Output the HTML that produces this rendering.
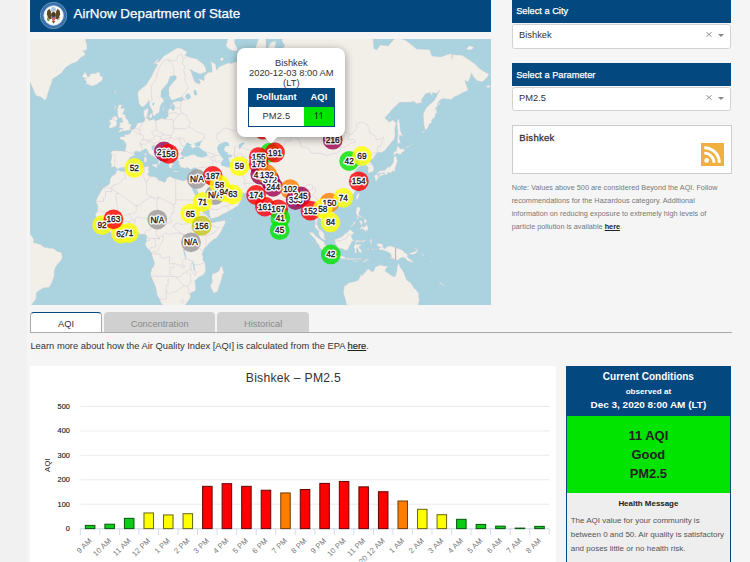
<!DOCTYPE html>
<html><head><meta charset="utf-8"><title>AirNow Department of State</title>
<style>
*{box-sizing:border-box}
html,body{margin:0;padding:0}
body{width:750px;height:562px;overflow:hidden;background:#f5f5f5;font-family:"Liberation Sans",sans-serif;color:#333;position:relative;font-variant-ligatures:none}
svg text{font-variant-ligatures:none}
.abs{position:absolute}
#hdr{left:30px;top:0;width:460.8px;height:31.5px;background:#03487f}
#hdr .t{position:absolute;left:43.5px;top:6.4px;font-size:13.4px;line-height:16px;color:#fff;white-space:nowrap;-webkit-text-stroke:0.25px #fff}
#map{left:30px;top:38.5px;width:460.9px;height:266.2px;background:#aad3df;overflow:hidden}
.mh{font:8.3px "Liberation Sans",sans-serif;text-anchor:middle;fill:#fff;stroke:#fff;stroke-width:3px;stroke-linejoin:round}
.ml{font:8.3px "Liberation Sans",sans-serif;text-anchor:middle;fill:#111;stroke:#111;stroke-width:0.28px}
.bar{left:511.7px;width:219.6px;background:#03487f;color:#fff;font-size:9.25px;-webkit-text-stroke:0.25px #fff;padding-left:4.5px;white-space:nowrap}
.sel{left:511.7px;width:219.6px;height:24px;background:#fff;border:1px solid #d2d2d2;border-radius:2.7px;font-size:9.3px;color:#333;padding-left:6.4px;line-height:21.8px}
.sel .x{position:absolute;left:193.5px;top:6.9px;width:6px;height:5px}
.sel .a{position:absolute;left:205.6px;top:8.6px;width:0;height:0;border-left:3.3px solid transparent;border-right:3.3px solid transparent;border-top:3.4px solid #888}
#city{left:511.7px;top:125px;width:220px;height:48.5px;background:#fff;border:1px solid #ccc}
#city .n{position:absolute;left:6.6px;top:6.2px;font-size:9.5px;color:#333;-webkit-text-stroke:0.3px #333;letter-spacing:0.3px}
#note{left:511.7px;top:180.7px;width:225px;font-size:7.25px;line-height:13.05px;color:#777;white-space:nowrap;letter-spacing:0.02px}
#note b{color:#222;text-decoration:underline}
.tab{top:312px;height:20.3px;background:#d0d0d0;border-radius:4px 4px 0 0;font-size:9.3px;color:#8a8a8a;text-align:center;line-height:24.3px}
#tabline{left:30px;top:331.8px;width:701.5px;height:0.9px;background:#a9a9a9}
#learn{left:30.4px;top:340.4px;font-size:9.36px;line-height:12px;color:#333;white-space:nowrap}
#learn b{font-weight:normal;text-decoration:underline;color:#222;-webkit-text-stroke:0.15px #222}
#chart{left:30px;top:366.3px;width:526px;height:196px;background:#fff}
.yl{font:7.3px "Liberation Sans",sans-serif;text-anchor:end;fill:#222;stroke:#222;stroke-width:0.15px;letter-spacing:0.1px}
.xl{font:7.6px "Liberation Sans",sans-serif;text-anchor:end;fill:#777;letter-spacing:0.15px}
.yt{font:7.6px "Liberation Sans",sans-serif;text-anchor:middle;fill:#222;letter-spacing:0.3px}
.ct{font:12.2px "Liberation Sans",sans-serif;text-anchor:middle;fill:#333;letter-spacing:0.25px}
#cc{left:565.8px;top:366.2px;width:165.2px;height:200px;background:#eee;border:1px solid #03487f;border-top:none}
#cc .h{position:absolute;left:-1px;top:0;width:165.2px;height:49.6px;background:#03487f;color:#fff;text-align:center;font-weight:bold}
#cc .g{position:absolute;left:0;top:49.6px;width:163.2px;height:77.2px;background:#00e400;color:#222;text-align:center;font-weight:bold;font-size:12.9px}
#cc .g div{position:absolute;left:0;width:100%;line-height:14px}
#cc .hm{position:absolute;left:0;top:133.2px;width:163.2px;text-align:center;font-weight:bold;font-size:7.95px;color:#222}
#cc .tx{position:absolute;left:3.9px;top:147.4px;font-size:8.0px;line-height:14.05px;color:#555;white-space:nowrap}
</style></head><body>

<div class="abs" style="left:0;top:0;width:26.7px;height:562px;background:#f1f1f1"></div>
<div id="hdr" class="abs">
<svg class="abs" style="left:10px;top:2px" width="27" height="27" viewBox="0 0 27 27">
<circle cx="13.5" cy="13.5" r="13.2" fill="#2f67a6" stroke="#8db6c2" stroke-width="0.7"/>
<circle cx="13.5" cy="13.5" r="11.4" fill="none" stroke="#4a80ba" stroke-width="0.7"/>
<circle cx="13.6" cy="13.5" r="9.8" fill="#fdfdfa" stroke="#c9dcec" stroke-width="0.8"/>
<circle cx="13.4" cy="7.6" r="2.5" fill="#a9c9e2"/>
<path d="M9.4 6.8 L7.2 9 L6.9 12.2 L7.8 15.2 L9.6 17.6 L11.6 16.4 L11.2 12.5 L10.8 9.2 Z" fill="#5e4a22"/>
<path d="M17.6 6.8 L19.8 9 L20.1 12.2 L19.2 15.2 L17.4 17.6 L15.4 16.4 L15.8 12.5 L16.2 9.2 Z" fill="#5e4a22"/>
<path d="M11.4 11 L13.5 9.8 L15.6 11 L15.8 14 L11.2 14 Z" fill="#4a3a1c"/>
<path d="M11.5 19 L13.5 21.8 L15.5 19 Z" fill="#7a6a45"/>
<ellipse cx="8.2" cy="17.4" rx="1.2" ry="1.9" transform="rotate(-25 8.2 17.4)" fill="#7d9650"/>
<path d="M17.5 18.6 L20.2 16.2 M17.2 17.6 L20 15.2" stroke="#8a8266" stroke-width="0.6"/>
<path d="M11.6 13.9 h3.9 v2.4 q0 2.2 -1.95 3 q-1.95 -0.8 -1.95 -3 Z" fill="#e0605f"/>
<path d="M11.6 13.9 h3.9 v1.5 h-3.9 Z" fill="#2f4f8f"/>
</svg>
<div class="t">AirNow Department of State</div>
</div>

<div id="map" class="abs">
<svg width="461.5" height="266.2" viewBox="30 38.5 461.5 266.2" style="position:absolute;left:0;top:0">
<path d="M177.2 47.4 L181.4 48.0 L187.1 51.4 L185.2 55.3 L190.9 57.0 L196.6 58.6 L203.6 63.8 L206.0 68.2 L206.0 71.6 L200.3 73.5 L193.7 71.1 L189.9 68.7 L192.8 75.8 L194.3 80.8 L197.5 83.0 L200.0 83.4 L200.3 81.6 L198.5 78.1 L204.1 80.3 L204.1 75.8 L207.9 72.1 L212.1 71.6 L211.7 64.8 L210.4 61.2 L215.5 63.2 L216.5 69.7 L219.3 66.3 L228.8 62.2 L230.7 63.2 L236.4 61.2 L242.1 59.6 L244.0 54.8 L249.6 57.5 L253.4 59.1 L255.3 62.2 L259.1 62.7 L255.3 56.4 L255.3 48.0 L259.1 36.4 L265.8 37.0 L266.3 48.0 L264.8 64.3 L265.8 71.6 L268.6 69.2 L267.7 61.7 L267.7 48.0 L270.5 42.0 L276.2 40.2 L274.3 50.9 L280.0 52.0 L284.7 45.0 L281.9 40.2 L281.9 31.8 L293.3 29.0 L293.3 21.9 L308.4 13.6 L317.9 10.4 L326.1 0.2 L331.2 7.9 L340.7 10.4 L343.5 18.2 L336.9 25.5 L340.7 30.4 L344.4 31.8 L353.9 35.7 L361.5 34.4 L367.2 31.8 L372.9 35.7 L373.8 48.0 L376.7 49.2 L380.5 44.4 L388.1 45.6 L392.8 40.2 L395.6 37.0 L405.1 39.5 L412.7 45.0 L416.5 48.6 L429.8 49.2 L431.7 55.3 L435.5 55.9 L441.1 56.4 L446.8 54.2 L451.6 53.1 L451.8 59.1 L452.5 54.2 L462.0 54.8 L469.6 59.6 L475.3 63.8 L479.1 67.8 L484.7 71.6 L489.1 73.5 L487.6 76.3 L483.8 80.3 L481.9 81.2 L477.2 80.3 L473.4 76.3 L471.5 72.6 L469.6 78.5 L468.3 81.2 L464.8 79.9 L466.7 85.5 L468.3 89.7 L462.0 92.5 L457.3 95.3 L454.4 96.1 L451.2 99.1 L443.0 98.0 L440.2 99.5 L437.9 102.1 L437.3 106.5 L435.5 107.2 L437.3 112.8 L435.5 112.8 L434.9 116.8 L431.7 119.4 L431.7 122.6 L429.2 123.6 L428.4 126.4 L425.4 129.7 L424.3 126.4 L423.5 120.1 L423.3 113.5 L425.6 108.3 L428.8 104.7 L434.5 99.9 L437.9 92.9 L440.2 89.3 L436.4 92.9 L432.2 92.1 L432.6 96.8 L430.1 92.1 L425.4 93.3 L421.2 99.9 L422.2 102.1 L416.5 103.2 L414.2 101.0 L409.9 101.8 L403.2 101.8 L399.8 101.8 L393.7 107.2 L389.9 111.8 L384.8 117.5 L388.1 120.1 L389.0 121.7 L392.8 119.4 L396.2 122.9 L394.7 127.9 L395.1 133.9 L394.5 138.2 L390.9 142.4 L387.1 147.3 L384.3 150.4 L380.8 152.2 L378.6 151.2 L376.1 153.5 L374.2 156.1 L374.2 157.3 L370.2 159.8 L369.9 161.3 L371.7 163.0 L373.6 166.6 L373.8 169.9 L372.9 171.0 L370.4 172.0 L368.0 172.7 L368.1 169.4 L368.3 166.6 L365.9 164.7 L365.3 162.8 L365.9 160.6 L364.2 159.6 L359.8 161.5 L358.1 162.3 L359.6 158.1 L357.7 157.1 L354.3 160.8 L351.6 161.5 L353.7 165.4 L356.4 164.9 L360.6 165.6 L357.7 167.5 L354.5 171.3 L356.4 173.1 L357.5 176.3 L359.4 178.8 L358.9 180.5 L356.4 181.9 L359.4 182.7 L358.9 186.2 L357.0 187.9 L355.1 191.1 L353.7 193.2 L352.2 194.3 L349.6 196.8 L345.0 198.6 L343.5 199.0 L340.1 200.4 L337.6 200.9 L337.4 202.9 L336.3 200.6 L333.6 200.2 L330.8 201.9 L328.7 205.5 L330.2 208.5 L332.7 210.9 L334.8 212.8 L335.5 217.3 L335.3 219.9 L331.6 222.4 L330.4 224.1 L327.4 225.8 L327.4 223.0 L324.7 222.2 L323.0 219.7 L319.6 217.9 L318.8 216.4 L317.9 216.8 L317.7 220.2 L316.4 223.5 L317.9 225.1 L318.7 228.5 L320.7 229.3 L322.6 230.8 L324.3 233.7 L324.3 236.9 L325.9 239.5 L324.3 239.5 L320.4 236.9 L318.7 233.7 L318.5 230.8 L317.3 229.3 L314.9 227.0 L315.1 223.1 L315.2 219.3 L314.1 215.4 L313.3 210.5 L311.8 209.1 L310.7 210.5 L309.0 211.9 L307.1 211.5 L307.5 207.9 L306.0 204.7 L304.1 202.1 L302.7 200.0 L302.4 198.6 L300.1 198.2 L298.6 199.8 L295.5 200.0 L293.3 200.6 L292.9 202.5 L289.6 204.7 L287.6 206.9 L284.3 210.1 L282.1 211.9 L280.4 213.4 L280.4 216.9 L279.8 219.7 L279.8 222.6 L278.1 224.1 L276.6 225.3 L275.2 226.8 L273.3 225.1 L272.4 221.6 L270.5 218.3 L269.6 214.4 L267.8 211.5 L266.5 205.7 L266.1 201.9 L265.9 199.6 L265.0 201.3 L262.5 202.1 L259.5 199.0 L261.6 197.4 L258.2 196.3 L256.3 195.3 L255.3 193.6 L254.4 192.4 L250.6 192.8 L245.1 192.8 L240.2 192.4 L236.9 191.8 L236.2 189.0 L235.0 188.8 L231.6 189.9 L227.8 187.7 L225.0 184.9 L224.6 182.7 L223.1 182.1 L221.0 181.9 L219.3 182.5 L219.3 183.8 L220.6 186.4 L223.3 189.6 L223.5 192.2 L224.6 193.6 L225.4 190.9 L226.1 193.2 L226.1 194.7 L229.7 195.1 L231.6 194.5 L233.1 192.6 L234.7 190.9 L235.2 190.3 L235.2 193.4 L236.8 195.5 L239.4 196.1 L241.7 198.4 L239.4 202.7 L237.9 205.5 L236.4 205.9 L233.0 208.5 L230.9 209.5 L227.3 211.5 L221.4 214.4 L218.4 216.2 L213.6 217.7 L210.8 217.9 L210.2 216.8 L209.4 213.6 L209.3 210.5 L207.7 207.9 L205.7 204.1 L202.6 200.4 L201.3 196.1 L198.8 193.2 L197.5 190.7 L195.0 186.9 L194.3 185.8 L194.7 183.6 L193.3 187.3 L192.0 186.0 L190.1 182.7 L189.7 183.4 L191.1 186.2 L192.4 188.6 L193.3 190.9 L195.6 195.3 L196.0 197.4 L198.3 199.4 L199.0 201.5 L198.8 204.3 L201.5 207.5 L203.2 212.3 L206.4 214.2 L208.7 216.9 L210.4 218.5 L210.2 220.1 L211.7 222.2 L214.6 221.8 L217.4 221.0 L221.2 220.6 L225.4 219.7 L225.2 222.4 L224.6 224.3 L222.7 227.0 L221.2 230.8 L219.3 233.7 L216.1 238.0 L214.2 238.4 L210.8 241.3 L208.9 243.1 L207.0 245.8 L204.5 247.3 L203.6 249.8 L202.6 251.7 L201.9 254.4 L202.8 255.1 L203.2 257.4 L202.8 259.3 L204.9 262.2 L205.3 266.1 L205.5 270.4 L204.5 272.9 L202.2 274.9 L198.5 276.7 L197.1 278.5 L194.5 280.5 L195.4 282.9 L195.6 285.0 L195.6 288.7 L195.0 290.6 L190.9 292.2 L190.1 293.3 L190.7 295.4 L189.7 298.6 L187.1 301.7 L185.2 304.7 L182.0 308.1 L179.5 309.9 L177.0 310.8 L171.0 311.0 L166.2 312.7 L163.4 311.5 L163.0 308.1 L163.0 305.6 L161.1 302.5 L159.6 298.8 L157.1 294.5 L155.8 286.8 L153.3 280.9 L150.7 275.5 L150.7 272.5 L152.0 267.8 L153.9 265.7 L154.5 262.6 L153.3 259.0 L151.6 253.8 L151.1 251.7 L149.3 249.6 L146.5 246.8 L145.0 243.5 L146.3 241.4 L146.5 237.8 L146.9 235.9 L146.3 234.6 L144.4 233.7 L141.6 233.8 L139.7 234.0 L137.8 231.2 L136.6 230.2 L134.7 230.0 L130.6 230.6 L127.9 231.8 L124.5 233.1 L122.4 232.5 L120.7 232.1 L116.9 233.1 L114.1 233.8 L110.9 231.9 L107.8 230.2 L104.6 227.9 L103.3 226.0 L102.3 224.1 L100.2 221.6 L98.9 219.5 L96.6 218.3 L96.4 216.6 L95.1 214.0 L97.0 211.5 L97.8 207.5 L97.6 204.7 L96.1 201.7 L96.3 199.4 L98.0 195.9 L100.8 190.9 L102.9 187.7 L103.8 187.1 L107.3 185.1 L109.2 183.8 L110.1 181.6 L109.7 179.2 L112.2 175.2 L113.9 174.5 L115.4 173.6 L116.9 170.1 L117.1 169.4 L118.3 169.2 L120.0 170.8 L122.6 170.6 L124.5 171.0 L127.2 169.7 L130.8 167.8 L134.2 167.1 L138.0 167.1 L143.1 166.8 L146.9 165.9 L149.3 166.6 L148.4 168.0 L148.4 169.4 L149.3 170.8 L148.8 172.0 L147.4 173.8 L149.3 175.4 L151.6 176.3 L153.3 176.1 L157.1 177.2 L158.1 179.4 L161.5 180.5 L164.5 181.9 L166.2 180.5 L166.4 177.9 L169.3 176.1 L172.1 176.8 L173.8 177.9 L175.7 178.3 L179.9 179.4 L183.3 180.5 L185.0 179.9 L187.1 179.0 L189.5 179.7 L192.0 180.1 L193.3 179.7 L194.3 177.9 L194.8 175.6 L195.6 173.8 L196.4 171.5 L196.4 169.0 L196.9 167.5 L195.2 167.5 L193.9 167.1 L192.0 168.5 L190.1 168.7 L188.0 167.3 L186.5 166.8 L185.9 168.2 L183.5 167.3 L181.8 167.1 L180.3 166.6 L179.9 164.4 L178.2 163.5 L179.1 162.8 L179.3 161.0 L177.8 160.6 L178.0 159.3 L178.0 158.6 L177.6 157.8 L177.4 157.3 L174.6 157.1 L173.6 158.3 L173.4 159.3 L171.7 158.1 L171.1 159.3 L172.1 161.3 L171.7 162.0 L173.9 164.9 L173.0 164.4 L171.9 164.4 L172.3 165.6 L171.5 165.4 L172.1 167.8 L170.8 167.8 L169.4 167.1 L168.7 164.9 L169.4 163.7 L168.3 163.2 L167.5 161.8 L166.6 160.3 L165.1 158.3 L165.3 156.1 L164.9 154.6 L163.4 153.3 L160.9 151.7 L159.4 150.4 L157.1 148.6 L156.6 146.5 L155.6 145.6 L154.7 147.0 L154.1 144.8 L151.6 145.4 L151.8 147.0 L151.8 148.6 L153.9 150.2 L155.2 153.0 L159.0 154.6 L158.6 155.8 L160.5 156.6 L163.4 158.8 L163.2 159.8 L162.2 158.6 L160.7 158.1 L159.6 159.8 L160.9 161.8 L159.6 163.2 L158.8 164.4 L158.1 164.2 L158.4 162.5 L158.8 161.0 L157.9 159.3 L156.6 158.6 L155.4 157.3 L153.9 156.3 L151.6 155.1 L149.3 153.3 L148.2 151.7 L147.8 150.2 L146.9 148.8 L145.2 148.1 L143.7 149.4 L142.1 149.9 L139.9 151.5 L138.5 150.9 L136.1 150.4 L134.4 151.2 L134.2 153.3 L134.4 154.6 L132.5 155.8 L130.0 156.8 L129.6 157.8 L127.7 160.6 L128.7 162.3 L127.4 163.5 L127.0 165.2 L124.7 166.8 L123.7 167.1 L120.0 167.3 L118.1 168.7 L116.4 167.8 L115.0 166.1 L113.3 166.6 L111.4 166.6 L111.6 163.2 L110.5 162.5 L111.0 160.3 L111.8 156.6 L111.4 154.0 L110.9 151.5 L112.6 150.4 L115.0 150.2 L117.5 150.2 L121.1 150.4 L124.9 150.7 L125.8 147.5 L126.2 144.8 L126.0 143.2 L124.1 140.4 L122.4 139.3 L120.0 138.5 L119.4 137.0 L121.7 135.9 L124.5 136.2 L125.3 133.3 L126.2 134.2 L128.5 133.9 L131.1 132.1 L131.3 129.7 L134.4 128.2 L135.9 126.4 L137.2 123.3 L138.7 122.3 L141.6 122.0 L143.8 121.4 L144.8 120.1 L144.6 116.8 L143.7 114.8 L143.8 110.0 L147.1 107.9 L148.4 107.6 L148.2 111.8 L147.6 113.1 L146.9 115.8 L146.5 117.1 L147.3 118.5 L149.2 118.8 L148.8 120.1 L151.2 119.4 L153.9 118.5 L155.4 120.4 L159.0 119.1 L163.4 117.5 L163.8 118.8 L166.0 118.5 L166.2 117.1 L168.3 115.8 L168.1 114.5 L168.1 110.7 L169.3 107.9 L171.1 107.9 L172.9 110.0 L174.0 110.0 L174.6 106.9 L174.8 105.1 L172.9 104.0 L172.7 102.1 L175.3 101.0 L178.5 100.6 L181.4 101.0 L183.7 99.1 L185.7 99.5 L183.3 98.4 L182.5 96.5 L179.5 97.2 L175.7 98.4 L171.9 99.9 L170.4 97.6 L168.9 95.3 L169.1 92.9 L168.7 89.7 L169.1 86.8 L171.5 83.8 L174.8 79.9 L176.5 78.1 L176.3 75.8 L174.4 74.9 L170.4 75.8 L169.1 78.5 L168.3 81.2 L166.8 83.8 L164.3 86.4 L162.2 88.9 L161.3 90.1 L160.9 95.3 L160.9 96.5 L163.4 98.4 L164.1 101.0 L162.6 101.8 L160.9 104.0 L160.0 106.9 L159.4 111.1 L158.6 112.8 L156.4 113.1 L155.2 115.1 L152.9 115.5 L152.4 113.1 L152.8 111.1 L151.1 107.6 L149.5 105.1 L149.5 102.5 L148.6 99.5 L148.0 101.8 L146.7 102.9 L145.0 105.1 L143.5 106.1 L141.8 106.5 L139.1 103.2 L138.3 97.6 L137.8 94.5 L138.0 91.3 L140.1 89.3 L142.9 86.8 L146.3 84.2 L148.2 80.8 L149.5 79.0 L151.4 76.3 L152.9 72.6 L155.6 67.8 L157.7 64.3 L154.8 63.2 L159.6 60.7 L161.3 58.6 L164.3 55.3 L168.1 53.1 L172.7 50.3Z M117.5 132.1 L120.3 131.5 L122.6 130.3 L124.7 130.6 L126.2 130.0 L128.9 130.0 L131.0 129.1 L131.0 128.2 L129.6 127.9 L130.2 127.0 L131.5 124.8 L130.8 123.6 L129.1 123.6 L128.5 121.4 L128.1 119.8 L126.0 118.1 L125.3 115.1 L124.5 114.1 L122.4 113.5 L123.0 112.4 L124.3 109.7 L124.9 108.3 L121.9 107.6 L120.5 108.3 L121.1 106.5 L122.4 104.3 L118.8 104.3 L118.3 105.8 L117.3 109.0 L117.7 111.8 L116.5 111.1 L117.9 113.5 L117.5 115.8 L118.6 116.8 L119.0 117.8 L121.7 117.1 L121.9 118.8 L122.8 119.8 L122.6 122.0 L120.1 122.0 L119.6 122.3 L119.8 123.9 L120.5 124.8 L119.4 126.1 L118.3 126.7 L120.3 127.6 L122.2 127.9 L123.2 127.6 L122.4 128.8 L120.3 128.8 L119.6 129.7 L118.6 131.2Z M116.2 125.8 L116.9 123.3 L116.7 122.3 L116.5 120.1 L117.9 118.8 L117.3 117.8 L116.7 116.1 L114.5 115.8 L112.6 116.5 L112.0 118.1 L112.2 119.1 L109.3 119.4 L109.5 121.7 L111.2 122.6 L110.3 123.6 L109.5 125.8 L108.8 127.0 L110.1 127.9 L112.2 127.3 L115.0 126.1Z M85.3 83.8 L86.8 82.1 L85.3 79.4 L82.8 79.0 L86.6 78.1 L81.8 76.3 L84.7 72.1 L85.8 72.1 L87.9 76.7 L89.8 75.4 L89.8 73.5 L93.2 73.0 L96.1 73.0 L97.6 71.6 L100.2 72.6 L100.0 75.4 L102.5 76.3 L102.7 78.5 L100.8 81.2 L99.5 81.6 L97.0 83.8 L93.8 85.1 L92.3 85.5 L90.0 85.1 L88.1 83.4Z M-4.4 -22.5 L-4.4 81.6 L30.3 82.1 L32.9 88.0 L34.1 91.3 L36.3 95.3 L41.1 96.5 L43.9 99.1 L45.1 99.9 L46.8 97.2 L47.7 93.3 L49.6 87.2 L51.5 83.0 L52.5 78.5 L57.0 75.8 L61.9 72.1 L65.7 66.8 L71.4 63.2 L77.1 61.2 L80.0 57.5 L82.8 55.9 L85.6 53.7 L82.8 50.3 L86.6 49.7 L87.0 45.0 L85.6 40.8 L86.6 35.7 L89.4 29.0 L92.3 21.9 L90.4 14.4 L90.4 -22.5Z M225.9 45.0 L226.9 42.0 L227.8 37.0 L230.7 32.4 L232.6 25.5 L236.4 19.7 L242.1 14.4 L251.5 8.7 L258.2 6.2 L259.1 10.4 L253.4 15.9 L244.0 21.9 L239.2 29.0 L235.4 35.7 L234.5 42.0 L237.3 48.0 L237.5 50.3 L232.6 50.3 L228.8 48.6Z M466.7 48.0 L469.6 45.0 L472.4 46.2 L474.3 46.8 L471.5 49.2 L467.7 49.2Z M485.1 85.9 L488.5 84.7 L491.4 85.9 L488.5 87.2Z M398.9 118.8 L399.8 123.3 L400.0 126.4 L400.6 130.9 L402.7 135.9 L399.4 134.5 L399.2 138.2 L400.4 141.5 L400.2 143.7 L398.9 142.1 L397.7 144.0 L397.3 139.6 L397.7 135.3 L397.9 130.9 L397.2 127.3 L397.0 122.3 L397.5 119.1Z M397.0 145.1 L398.5 146.5 L400.4 148.3 L403.8 148.3 L404.7 150.7 L402.1 151.7 L400.0 154.3 L397.2 152.8 L395.6 153.5 L394.3 153.8 L395.6 155.1 L395.1 154.8 L393.7 155.6 L393.4 152.8 L394.7 150.9 L396.4 150.7 L397.0 147.8Z M395.4 155.6 L396.6 156.8 L396.6 158.1 L397.5 160.3 L396.6 163.5 L395.6 166.6 L394.9 168.2 L395.4 169.7 L394.3 171.0 L393.4 171.3 L393.4 169.9 L392.2 170.8 L391.7 172.2 L390.3 172.2 L388.1 172.2 L387.9 171.3 L387.9 172.9 L386.7 173.8 L385.8 174.7 L384.4 173.6 L384.6 172.2 L382.4 172.2 L380.5 172.9 L379.3 172.9 L376.7 173.6 L376.7 172.7 L378.6 171.3 L379.7 170.4 L381.0 169.9 L382.9 169.9 L384.8 169.7 L386.3 168.2 L387.7 166.6 L388.6 165.4 L388.4 167.1 L390.5 166.1 L391.8 164.2 L393.4 161.8 L393.7 159.8 L393.6 157.8 L394.3 156.3Z M379.5 175.9 L380.5 176.5 L381.6 174.7 L382.7 175.2 L383.7 174.0 L383.5 173.1 L381.6 172.9 L380.3 173.6 L379.1 174.7Z M376.5 173.8 L378.0 174.5 L378.6 176.3 L377.4 179.4 L376.1 180.3 L375.2 179.7 L375.2 177.7 L374.4 176.5 L374.0 175.2 L375.5 174.5Z M358.9 192.6 L359.6 193.2 L358.9 195.3 L357.5 199.4 L356.2 198.0 L356.0 196.3 L357.0 194.3 L357.7 193.2Z M334.4 205.1 L335.9 203.5 L337.4 203.3 L338.8 204.3 L337.8 205.9 L336.1 207.1 L334.4 206.5Z M280.0 223.5 L282.3 226.0 L283.4 228.9 L283.0 230.0 L281.1 231.0 L280.0 230.4 L279.6 228.9 L279.4 226.6Z M357.0 206.5 L360.0 206.7 L360.4 209.5 L358.9 211.9 L359.0 214.8 L361.1 215.4 L363.6 218.1 L362.1 217.3 L360.4 216.0 L357.7 216.0 L357.0 214.8 L357.5 214.2 L356.2 213.8 L355.6 210.9 L356.6 210.3 L356.6 208.5Z M366.1 223.7 L368.0 226.4 L368.1 228.9 L367.2 230.2 L366.4 229.3 L366.1 231.4 L363.6 228.9 L362.3 227.9 L359.8 229.1 L360.2 227.4 L362.3 225.8 L363.0 226.8 L364.7 226.0 L366.1 225.1Z M364.0 218.3 L366.2 218.9 L366.6 220.8 L365.7 222.8 L364.9 223.1 L364.2 221.2Z M359.6 219.7 L361.5 220.2 L362.5 222.2 L361.9 224.7 L360.6 223.9 L360.4 222.0 L359.4 221.2Z M350.5 226.2 L352.6 224.1 L354.7 220.4 L355.3 222.2 L353.2 224.7 L351.1 226.6Z M356.6 216.6 L358.5 216.8 L358.5 218.5 L357.7 218.9 L357.0 217.3Z M335.2 238.4 L336.1 238.4 L339.5 237.3 L342.5 236.1 L344.4 233.5 L346.3 232.7 L348.4 230.8 L349.8 228.9 L351.5 230.0 L352.2 231.2 L354.3 232.3 L352.6 233.8 L351.8 234.2 L351.3 235.9 L352.0 237.8 L353.9 240.3 L351.6 240.7 L351.1 243.1 L349.8 244.7 L348.8 246.9 L348.2 249.0 L345.6 250.0 L342.5 248.3 L340.1 247.7 L337.2 247.7 L336.9 245.0 L335.2 243.1 L335.5 242.2 L334.8 240.3Z M309.0 231.6 L313.2 232.3 L315.4 235.2 L318.7 237.8 L320.6 239.0 L323.6 240.9 L325.1 244.1 L326.4 245.8 L329.5 248.3 L328.9 250.7 L328.9 253.2 L326.4 252.8 L323.6 250.9 L322.3 249.6 L319.8 246.9 L318.7 244.1 L316.2 241.6 L315.4 239.0 L312.6 236.1 L310.5 234.2Z M329.3 253.4 L330.8 253.8 L334.2 254.9 L337.6 255.3 L338.6 254.4 L341.8 255.3 L345.4 256.8 L345.4 258.8 L342.0 258.2 L336.9 257.2 L334.0 257.0 L330.2 256.3 L327.9 255.1Z M345.6 257.8 L349.6 258.0 L353.9 258.0 L355.8 258.2 L361.3 257.8 L361.1 258.8 L355.6 259.1 L353.9 259.0 L348.2 259.1 L345.6 258.6Z M362.5 261.8 L364.4 259.7 L369.1 258.2 L369.5 258.6 L365.3 261.1 L364.4 261.6Z M353.9 260.3 L357.3 261.1 L356.2 261.8 L354.3 261.1Z M355.4 240.7 L357.5 239.7 L361.5 240.4 L365.0 239.4 L365.7 239.4 L364.0 241.4 L361.5 241.3 L357.7 241.3 L356.2 242.2 L356.0 243.9 L358.9 243.8 L362.3 243.9 L360.6 245.2 L358.7 246.0 L360.2 248.5 L361.9 249.8 L361.7 251.1 L360.7 252.5 L358.9 251.3 L357.7 247.3 L356.4 247.9 L356.6 249.8 L356.4 252.8 L354.7 252.6 L354.9 248.8 L353.7 247.1 L354.5 244.7 L355.5 243.5 L355.4 241.8Z M370.2 238.4 L372.1 239.4 L371.0 241.3 L372.3 241.6 L370.8 243.7 L370.4 242.8 L370.0 240.3Z M371.0 247.9 L376.3 248.5 L376.3 248.8 L372.9 248.7 L371.0 248.7Z M367.4 248.3 L369.5 248.5 L368.9 249.4 L367.4 249.0Z M376.5 243.9 L379.5 243.0 L382.5 243.8 L383.1 247.1 L384.3 248.6 L386.7 246.4 L389.9 245.2 L395.1 247.0 L400.6 248.9 L402.3 249.4 L404.7 252.1 L406.8 253.4 L408.6 254.9 L407.0 254.9 L407.4 256.3 L409.5 258.6 L411.4 259.5 L414.0 262.4 L411.8 261.8 L407.3 260.2 L405.1 257.6 L402.5 256.7 L400.0 258.0 L397.9 259.7 L395.6 259.5 L391.8 257.6 L389.4 258.2 L391.7 255.7 L389.9 252.6 L386.0 250.7 L381.4 249.2 L380.1 249.8 L378.6 247.7 L381.4 246.8 L378.6 246.0 L377.2 245.0Z M409.5 252.8 L412.9 251.7 L416.9 250.2 L417.1 251.7 L415.5 253.0 L412.7 254.2 L409.7 253.4Z M414.2 247.1 L416.5 248.3 L418.4 250.4 L417.8 250.9 L415.5 248.5 L414.0 247.5Z M421.4 252.5 L423.9 254.6 L423.1 255.3 L421.6 253.6Z M430.7 259.9 L433.2 260.9 L432.6 261.3 L430.9 260.7Z M439.2 281.1 L444.7 285.0 L444.0 285.6 L439.2 281.9Z M346.3 311.5 L347.7 306.3 L346.3 303.0 L345.6 299.3 L344.6 296.5 L343.5 292.2 L343.9 288.1 L344.6 284.6 L345.4 285.6 L346.5 284.2 L349.6 282.1 L353.2 281.5 L357.7 280.1 L360.0 276.8 L361.3 273.7 L362.6 275.5 L363.4 273.5 L365.3 271.8 L367.2 269.0 L368.9 268.5 L371.2 271.0 L373.8 270.8 L375.2 266.7 L376.4 266.0 L379.5 265.3 L378.8 263.6 L380.5 264.5 L384.6 265.5 L387.7 265.5 L386.0 268.0 L385.0 270.6 L388.1 272.7 L392.4 275.7 L395.3 275.9 L396.8 271.0 L397.2 266.3 L398.5 262.6 L400.2 266.7 L402.3 269.4 L403.8 272.0 L404.7 274.7 L406.6 279.5 L410.2 281.9 L411.2 283.1 L414.2 287.9 L416.3 289.5 L418.8 293.1 L418.6 296.3 L419.5 298.8 L418.6 302.5 L417.4 307.2 L415.2 310.4 L413.1 315.4 L412.7 325.1 L346.3 325.1Z M221.7 265.0 L223.5 271.0 L224.0 272.5 L222.5 273.9 L222.0 277.2 L219.9 283.5 L217.4 291.2 L213.8 292.4 L211.2 287.8 L210.4 284.4 L212.3 281.5 L211.7 275.9 L212.5 273.3 L216.1 272.3 L219.1 270.2 L219.9 267.8Z M-4.4 227.0 L30.7 233.8 L33.7 239.0 L33.5 242.2 L36.5 242.8 L38.2 243.3 L41.1 244.3 L44.3 246.9 L46.2 246.8 L49.0 247.7 L52.6 247.7 L55.3 249.2 L57.6 251.1 L61.2 251.9 L61.6 253.2 L62.3 255.7 L62.1 257.6 L60.6 260.7 L58.1 263.0 L55.3 267.1 L54.4 270.6 L54.0 276.3 L53.0 278.9 L51.9 281.5 L50.6 285.0 L48.7 287.0 L46.4 287.0 L43.5 287.6 L40.5 289.1 L36.3 292.2 L36.3 296.7 L35.8 298.8 L33.3 301.9 L31.6 304.7 L29.5 306.7 L27.8 310.8 L-4.4 310.8Z M151.9 164.2 L153.6 163.8 L157.8 163.6 L156.9 165.4 L157.3 166.5 L156.9 167.4 L155.3 166.5 L153.1 165.4 L151.9 164.7Z M145.7 156.3 L146.9 158.1 L146.7 159.3 L146.3 161.5 L145.4 161.8 L144.2 161.8 L144.2 158.6 L143.8 157.1Z M146.1 151.7 L146.3 154.3 L145.7 155.8 L144.6 154.3 L144.6 153.3 L145.9 152.5Z M173.0 170.0 L175.7 170.4 L178.2 170.6 L178.2 171.2 L175.3 171.5 L173.0 170.8Z M189.5 171.2 L190.7 170.4 L193.9 169.7 L192.8 171.3 L190.9 172.3Z M149.3 114.5 L151.1 113.1 L152.2 113.5 L152.0 116.1 L151.2 117.8 L149.2 117.5 L149.5 116.1Z M146.9 115.1 L148.6 115.1 L148.8 116.5 L147.4 116.8Z M169.8 105.4 L171.3 104.3 L172.5 104.7 L171.3 105.8Z M162.6 109.7 L163.8 106.9 L164.5 107.2 L163.9 109.0 L163.0 110.4Z M132.9 160.6 L134.2 159.4 L134.9 160.1 L134.0 161.0Z M229.4 218.3 L230.7 217.9 L231.6 218.3 L230.1 218.7Z M219.9 59.1 L221.8 56.4 L223.7 58.6 L221.8 60.7Z M405.1 147.8 L407.0 145.9 L410.4 145.1 L410.2 145.6 L407.0 147.0 L405.5 148.3Z M411.8 144.6 L413.6 143.2 L413.5 143.7 L411.9 144.8Z M422.2 132.4 L424.1 130.0 L424.5 130.9 L422.7 132.7Z M367.6 175.2 L368.9 174.6 L368.9 175.2 L367.8 175.4Z M304.1 216.4 L304.6 217.3 L304.4 220.1 L303.9 219.9 L303.9 217.7Z M202.6 253.2 L203.2 253.6 L203.2 254.4 L202.7 254.2Z M144.4 235.2 L145.2 235.2 L145.0 235.9 L144.4 235.7Z M96.4 185.8 L97.6 185.8 L96.8 186.9Z M98.3 186.6 L99.1 186.6 L98.7 187.3Z M101.4 185.4 L102.1 185.8 L101.2 186.6Z M233.1 282.7 L234.1 283.1 L233.5 283.7Z M237.1 280.9 L237.9 281.3 L237.3 281.9Z M370.4 190.9 L371.6 189.4 L371.0 190.1Z M327.8 245.4 L329.7 245.2 L330.6 247.9 L329.1 247.1Z M332.3 247.1 L333.6 247.3 L333.1 248.3Z M312.4 239.5 L313.9 241.1 L313.3 241.1 L312.2 239.9Z M315.2 244.1 L316.6 245.4 L316.0 245.6 L315.2 244.7Z M114.5 90.5 L116.0 90.1 L115.4 92.9Z M125.5 96.8 L126.4 97.2 L125.8 99.5Z M115.0 105.4 L116.5 105.1 L115.2 107.6 L114.3 109.3 L114.1 107.9Z M152.8 64.3 L155.8 62.2 L157.7 60.7 L158.6 58.0 L156.7 59.6 L153.9 62.7Z M170.2 103.2 L171.7 102.9 L171.5 103.8Z M165.5 98.0 L166.6 97.6 L166.4 98.8Z M438.3 102.5 L440.2 102.1 L439.2 104.7 L438.1 104.3Z M388.6 116.5 L390.3 116.1 L389.9 117.5 L388.8 117.5Z M388.1 29.0 L395.6 27.0 L399.4 32.4 L393.7 33.7Z M140.6 241.4 L141.1 241.6 L140.8 242.2Z M210.2 264.0 L210.8 264.5 L210.4 264.9Z M227.1 218.9 L227.7 218.9 L227.3 219.1Z" fill="#f2efe9" stroke="#cfc6cf" stroke-width="0.35" stroke-linejoin="round"/>
<path d="M111.4 154.6 L112.8 154.3 L115.8 154.6 L116.5 155.3 L115.2 156.8 L115.0 160.1 L114.1 160.3 L115.0 163.7 L114.3 166.1 M124.9 150.7 L129.6 152.2 L134.2 153.3 M142.5 149.6 L141.4 146.5 L141.2 144.0 L139.9 143.2 L141.6 139.6 L142.7 139.3 L143.8 135.3 L140.4 133.9 L139.3 133.9 L136.3 132.4 L133.0 129.1 M134.7 128.2 L137.8 128.2 L139.5 129.4 L139.7 130.0 L139.9 132.1 L140.4 133.9 M139.7 130.0 L139.9 127.0 L141.6 125.5 L142.0 122.3 M144.6 117.1 L146.5 117.5 M155.4 120.4 L156.0 124.8 L156.7 129.4 L151.4 131.5 L154.5 135.9 L152.9 139.6 L147.3 139.6 L146.5 139.6 L142.7 139.3 M139.9 143.2 L141.6 144.0 L144.4 143.2 L145.4 144.3 L148.2 141.3 L146.5 139.6 M148.2 141.3 L151.8 141.8 L154.3 142.4 L154.1 144.8 M154.5 135.9 L156.7 135.3 L160.3 136.5 L160.7 138.2 L158.8 141.3 L154.3 142.4 M156.7 129.4 L159.8 131.8 L163.9 133.9 L166.2 134.7 L171.1 135.0 L174.0 130.0 L173.0 126.4 L173.6 120.4 L171.5 118.8 L166.0 118.8 M160.3 136.5 L163.9 133.9 M173.6 120.4 L178.7 114.5 L181.8 112.8 L180.8 109.0 L180.3 108.3 L181.4 101.0 M168.3 113.1 L175.5 112.1 L178.7 114.5 M174.6 106.9 L180.3 108.3 M171.5 118.8 L173.6 120.4 M181.8 112.8 L186.9 114.8 L187.1 117.8 L190.3 121.7 L188.6 126.1 L186.3 128.5 L173.0 127.6 M188.6 126.1 L193.5 128.8 L195.8 131.2 L200.3 132.7 L204.5 133.6 L203.8 138.5 L200.7 140.7 M171.1 135.0 L170.4 137.0 L175.5 139.0 L178.7 137.3 L181.8 145.1 L184.6 145.9 M178.7 137.3 L183.7 138.2 L185.4 142.7 M170.4 137.0 L166.8 143.5 L168.9 147.0 L171.3 148.6 L175.7 149.9 L179.5 148.8 L182.5 149.9 M160.7 138.2 L163.9 138.8 L170.4 137.0 M158.8 141.3 L159.6 142.4 L163.9 144.0 L166.8 143.5 M154.1 145.1 L157.1 145.1 L159.6 142.4 M163.9 144.0 L164.3 146.7 L158.3 145.9 L158.6 149.1 L161.7 151.7 L163.4 153.0 M164.3 146.7 L165.1 150.4 L163.4 153.0 M165.1 150.4 L166.8 152.2 L167.4 154.6 L165.1 154.6 M171.3 148.6 L170.8 152.2 L171.7 156.1 L174.8 155.6 L178.2 155.1 L181.4 154.3 M178.2 155.1 L177.6 157.6 M166.2 160.1 L168.1 157.3 L171.7 156.1 M167.4 154.6 L170.8 153.5 M168.1 157.3 L167.4 154.6 M149.5 102.5 L152.0 99.1 L151.4 95.3 L151.2 85.1 L154.8 80.8 L157.5 72.6 L159.4 66.8 L162.6 61.7 L166.4 59.1 L167.2 58.6 L173.2 60.7 L177.2 59.1 L177.6 55.3 L181.4 53.1 L183.3 58.6 L186.9 55.9 M174.2 74.9 L173.2 66.8 L172.9 64.8 L167.2 58.6 M183.3 58.6 L182.3 63.2 L185.2 65.8 L183.5 69.7 L185.4 75.4 L184.6 79.4 L186.1 82.5 L188.2 87.6 L181.0 97.2 M114.5 116.8 L112.9 118.5 L114.5 119.8 L116.4 119.8 M204.1 150.7 L209.8 152.5 L216.5 154.8 L220.4 154.8 M207.0 155.6 L210.8 156.6 L213.6 156.1 L216.5 154.8 M210.8 156.6 L211.2 159.1 L213.2 160.1 L212.1 163.2 L213.2 166.1 L208.7 166.4 L200.3 167.1 L197.9 167.1 L196.9 169.0 M213.2 160.1 L216.5 162.0 L219.3 160.1 L221.0 163.2 M213.6 156.1 L216.5 162.0 M208.7 166.4 L206.4 171.7 L201.9 174.9 L196.6 176.5 L195.8 175.9 M201.9 174.9 L202.6 177.7 L198.5 179.2 L200.3 181.4 L199.4 182.5 L196.7 184.3 L194.7 183.8 M195.8 175.9 L195.6 179.2 L194.7 183.6 M193.3 179.7 L194.5 183.6 M195.8 175.9 L197.3 172.2 L196.4 172.0 M202.6 177.7 L204.9 178.3 L207.9 180.1 L213.1 184.3 L216.5 184.5 L218.4 184.7 L220.1 185.8 M216.5 184.5 L217.4 182.5 L219.3 182.5 M213.2 166.1 L214.6 169.0 L215.5 171.3 L214.6 173.6 L215.9 175.4 L218.9 178.5 L219.3 181.4 L220.3 182.5 M209.4 210.7 L210.6 208.5 L216.3 209.1 L218.4 209.3 L221.4 206.3 L226.9 205.5 L229.0 210.3 M226.9 205.5 L232.6 203.5 L233.9 199.4 L233.0 198.0 L228.0 197.6 L226.1 194.9 M233.0 198.0 L234.5 195.3 L235.2 193.4 M224.6 193.6 L225.4 194.1 M230.5 165.9 L234.5 164.0 L236.9 163.7 L240.7 165.4 L244.3 167.5 L244.3 169.9 L243.2 172.9 L243.6 174.7 L243.0 176.1 L245.3 179.4 L243.8 183.0 L247.4 188.4 L248.3 189.9 L245.1 192.8 M243.8 183.0 L254.0 182.7 L254.8 179.9 L259.7 178.3 L261.0 175.9 L263.1 173.6 L264.1 169.7 L263.3 168.7 L270.3 166.1 M244.3 169.9 L247.7 170.4 L250.6 168.2 L254.4 165.6 L257.2 166.6 L260.1 165.2 L261.4 165.2 L264.1 167.3 L264.1 163.5 L268.0 160.8 M221.6 142.9 L220.1 142.1 L217.4 138.8 L216.5 137.0 L217.4 134.7 L217.0 132.7 L220.1 132.4 L220.4 130.6 L224.6 127.6 L228.0 127.9 L231.8 129.4 L233.9 130.6 L239.4 129.4 L244.7 130.0 L244.0 126.4 L242.4 126.4 L244.1 123.6 L245.1 122.6 L244.0 120.4 L247.9 119.8 L251.9 119.1 L257.6 116.8 L261.4 116.5 L263.3 119.4 L267.5 120.4 L273.3 119.4 L276.0 122.3 L280.2 130.0 L286.4 129.4 L290.0 132.4 L293.8 135.0 M293.8 135.0 L291.0 137.0 L290.4 140.7 L285.7 140.4 L284.3 145.1 L280.7 146.5 L281.5 151.2 L280.4 153.8 M280.4 153.8 L278.1 152.2 L271.8 152.2 L269.0 151.2 L267.7 153.3 L262.9 152.8 L262.7 153.5 M262.7 153.5 L259.1 156.1 L257.2 156.8 L254.8 156.3 L253.4 153.3 L253.4 151.7 L251.4 149.9 L244.1 148.3 L239.4 144.8 L234.5 146.5 L234.5 156.1 M234.5 156.1 L236.4 156.1 L239.2 152.5 L242.1 153.8 L242.2 155.8 L245.7 156.6 L246.8 159.3 L250.0 162.0 L254.4 165.6 M234.5 156.1 L232.4 154.6 L227.8 155.1 M280.4 153.8 L276.8 156.1 L274.1 156.8 L270.1 158.3 L268.2 159.8 L268.0 160.8 L270.3 163.2 L270.3 166.1 M268.0 160.8 L262.3 160.3 L259.7 160.6 L262.0 158.8 L264.4 158.8 L266.7 157.3 L264.1 155.6 L261.4 155.6 L262.7 153.5 M257.2 166.6 L256.8 161.8 L259.7 160.6 M293.8 135.0 L298.4 133.3 L303.1 130.0 L307.7 132.4 L312.8 133.0 L314.7 130.9 L314.1 127.9 L315.8 126.1 L322.1 128.5 L322.3 130.6 L328.1 131.2 L333.1 133.6 L338.4 134.7 L342.2 133.9 L345.0 131.5 L349.6 133.0 M293.8 135.0 L295.1 136.5 L298.9 138.5 L300.8 143.7 L300.6 145.9 L305.6 146.7 L309.2 148.6 L311.1 152.5 L317.9 152.8 L321.3 153.0 L327.4 155.3 L332.1 153.3 L337.6 152.5 L340.5 149.9 L340.5 146.5 L343.7 147.0 L348.2 144.6 L350.9 142.7 L355.4 141.8 L355.6 141.0 L353.0 138.5 L351.6 139.3 L347.5 138.5 L349.6 133.0 M349.6 133.0 L351.6 133.9 L354.5 131.5 L357.1 126.4 L355.8 123.9 L357.5 122.3 L362.6 121.7 L367.2 123.9 L370.0 131.5 L370.2 133.0 L375.9 135.6 L376.1 139.0 L379.5 139.0 L383.9 137.0 L382.4 139.9 L380.7 146.2 L378.4 145.6 L377.1 149.1 L377.2 150.7 L375.9 153.3 M375.9 153.3 L374.6 151.7 L371.0 154.3 L368.9 154.8 L364.2 159.6 M368.5 164.7 L371.7 162.8 M333.1 200.4 L330.6 199.4 L327.9 196.8 L323.6 198.4 L321.9 198.6 L321.1 201.1 L320.2 200.2 L316.4 199.2 L317.0 197.6 L315.8 197.0 L313.2 195.3 L313.3 193.6 L315.4 191.3 L315.4 187.9 L313.0 186.2 M313.0 186.2 L310.7 183.8 L307.9 184.1 L302.7 187.3 L302.2 187.3 L296.9 188.4 L296.7 186.9 L295.3 187.1 L291.4 186.9 L287.6 184.3 L282.1 182.1 L278.1 179.9 L277.7 177.0 L279.0 175.9 L277.5 173.4 L276.2 170.1 L272.4 169.2 L270.3 166.1 M282.1 182.1 L280.2 185.1 L286.2 188.4 L289.5 189.2 L295.3 190.3 L295.3 187.1 M296.9 188.4 L298.6 189.6 L302.7 189.2 L302.2 187.3 M273.9 169.9 L268.6 172.0 L268.6 175.4 L271.3 177.4 L269.6 180.3 L267.5 182.7 L265.2 186.0 L261.8 186.9 L260.3 188.6 L261.2 191.3 L262.9 194.5 L258.7 194.7 L257.6 195.9 M297.2 199.4 L296.7 194.7 L295.3 194.3 L295.9 190.3 L298.6 191.1 L298.6 192.6 L303.5 193.2 L302.7 194.5 L301.2 195.1 L301.2 197.4 L303.3 197.4 L303.9 200.9 L303.3 202.1 M303.9 199.4 L305.2 195.3 L307.9 192.4 L308.8 189.6 L312.4 188.8 L313.0 186.2 M320.2 200.2 L318.1 202.9 L314.1 204.1 L313.7 207.5 L315.4 210.9 L314.5 213.2 L316.4 216.9 L317.1 219.7 L315.6 222.4 L315.2 223.1 M318.1 202.9 L319.0 204.5 L320.2 204.5 L320.0 208.5 L321.9 207.1 L324.3 206.7 L326.8 208.5 L327.0 210.7 L328.5 212.1 L328.3 214.2 L327.8 214.8 L323.6 215.0 L322.5 216.2 L323.4 219.9 M321.9 198.6 L323.6 201.5 L325.5 202.7 L327.2 204.5 L325.5 205.1 L327.8 206.9 L330.4 210.3 L332.1 212.8 L332.3 214.4 L332.1 218.7 L329.1 219.9 L329.3 221.2 L326.2 222.4 M327.8 214.8 L329.3 215.4 L332.3 214.4 M318.1 230.0 L320.0 231.4 L321.9 230.4 M336.1 238.4 L336.9 240.3 L340.3 240.3 L342.5 239.4 L346.0 238.6 L347.5 235.7 L348.0 234.0 L351.3 234.2 M363.4 260.1 L365.5 259.3 L365.3 260.3 M124.1 171.0 L124.9 173.1 L125.1 174.7 L126.0 177.7 L122.6 178.5 L121.5 180.8 L118.8 183.0 L111.8 185.4 L111.8 188.4 M111.8 187.5 L103.3 187.5 M111.8 188.4 L111.8 191.1 L105.5 191.1 L105.5 196.3 L103.7 197.4 L103.7 200.9 L96.1 200.9 M111.8 188.4 L119.2 193.2 L130.6 201.3 L134.4 203.9 L134.6 205.5 L136.3 205.3 L139.7 204.5 L142.5 201.7 L151.1 196.3 L147.1 194.3 L146.1 190.7 L147.1 190.1 L146.3 182.1 L144.0 177.0 L142.5 174.0 L144.0 172.0 L144.6 166.8 M146.3 182.1 L147.8 178.8 L150.1 176.8 L150.1 175.4 M175.7 178.8 L175.7 199.4 L175.7 203.5 L173.8 203.5 L173.8 204.5 L158.6 196.5 L156.7 197.4 L155.2 198.2 L151.1 196.3 M175.7 199.4 L198.3 199.4 M119.2 193.2 L116.0 193.2 L116.5 201.5 L117.9 210.5 L118.3 210.9 L117.7 212.4 L110.7 212.4 L108.0 212.6 L106.5 212.3 L105.2 213.8 L102.9 211.3 L100.8 210.3 L97.2 211.1 M136.3 205.3 L136.3 209.9 L134.9 212.6 L130.2 213.4 L128.7 213.4 L124.5 215.0 L120.7 216.8 L118.3 219.7 L117.9 222.4 M105.2 213.8 L106.7 218.5 L111.4 219.1 L113.1 222.8 L117.9 222.4 M106.7 218.5 L102.3 218.1 L96.6 218.5 M102.3 218.1 L102.3 221.2 L99.9 221.2 M113.1 222.8 L108.8 226.0 L106.5 229.1 M108.8 226.0 L108.8 223.1 L103.1 225.1 M135.1 219.9 L136.1 216.4 L141.4 217.3 L145.4 217.7 L151.1 216.9 L154.1 216.0 L157.7 209.7 L156.7 203.5 L158.6 196.5 M173.8 204.5 L173.8 212.1 L171.7 212.4 L170.0 218.1 L171.7 221.4 L169.4 222.0 L164.3 225.1 L159.8 227.6 L157.7 227.9 L155.2 223.1 L156.7 223.1 L156.9 221.2 L155.8 217.5 L154.1 216.0 M155.2 218.5 L153.3 223.9 L150.1 229.7 L146.9 229.3 L144.6 233.1 M133.4 230.0 L133.6 225.1 L135.1 219.9 L132.9 219.3 L130.0 221.2 L128.3 221.0 L123.0 221.2 L117.9 222.4 M131.3 230.4 L131.0 224.1 L130.0 221.2 M130.6 230.6 L129.2 227.0 L128.3 221.0 M122.4 232.5 L123.2 224.1 L123.0 221.2 M114.1 233.8 L112.2 227.7 L113.7 226.2 L112.8 222.8 M128.7 213.4 L132.9 219.3 M172.9 225.6 L174.2 225.6 L175.9 222.6 L181.2 223.9 L183.3 223.7 L187.5 223.5 L189.7 219.9 L191.2 218.9 L191.2 221.8 L193.0 224.1 L193.0 226.0 M193.0 224.1 L193.3 222.0 L194.7 219.7 L196.7 217.9 L197.5 214.8 L198.5 209.5 L201.5 207.5 M197.5 214.8 L200.2 213.6 L204.1 214.4 L208.7 218.3 M208.7 218.3 L207.6 221.2 L209.4 221.4 L211.7 225.1 L217.4 227.0 L219.3 227.0 L213.6 232.7 L207.9 234.4 L207.7 234.8 L203.2 235.7 L200.5 235.4 L196.6 233.8 L196.4 233.5 L195.2 231.8 L192.8 229.8 L190.9 227.4 L193.0 226.0 M209.4 221.4 L210.4 220.2 M207.7 234.8 L206.0 236.9 L206.0 243.9 L207.0 245.4 M202.6 251.1 L199.6 247.9 L192.8 244.1 L186.1 244.1 L184.4 244.9 L184.4 241.3 L186.9 237.6 L186.7 235.6 L180.3 232.5 L176.3 232.3 L171.7 233.3 L170.8 234.4 L165.3 232.5 L163.6 234.0 L163.6 235.6 L162.0 242.2 L159.0 246.4 L158.4 249.6 L155.6 251.5 L153.1 250.9 L151.4 253.2 M192.8 244.1 L192.8 241.3 L194.7 239.0 L193.5 235.2 L196.4 233.5 M186.7 235.6 L193.5 235.2 M186.7 235.6 L180.3 232.5 L172.9 225.6 M204.9 262.0 L200.3 263.8 L194.5 264.3 M192.8 260.3 L190.7 260.1 L187.1 258.6 M186.1 244.1 L186.7 246.8 L185.9 249.8 L184.0 250.6 M184.4 244.9 L183.3 247.3 L184.0 250.6 M151.4 253.2 L152.9 253.4 L159.8 253.4 L161.7 257.6 L165.1 257.4 L169.6 256.1 L169.6 263.6 L173.8 263.0 L173.8 267.1 L170.0 267.1 L170.0 273.3 L172.7 276.1 M150.7 275.5 L154.8 275.7 L163.2 275.7 L172.7 276.1 L176.3 276.5 M173.8 263.0 L176.3 263.6 L180.3 265.1 L183.3 267.8 L184.8 265.5 L182.1 265.1 L182.5 259.9 L186.7 258.0 M168.1 277.5 L168.1 285.0 L166.2 285.0 L166.2 298.4 L159.6 298.8 M166.2 290.8 L170.0 293.9 L171.9 291.8 L177.4 290.6 L179.5 288.3 L184.0 285.4 L180.4 281.9 L176.3 276.5 L179.5 276.7 L183.1 272.9 L185.9 272.1 L187.6 272.9 L190.9 274.3 L190.5 278.9 L190.7 281.5 L187.6 285.8 L184.0 285.4 M187.6 285.8 L189.0 290.1 L188.8 293.1 L190.7 295.0 M185.9 272.1 L185.6 271.0 L190.9 269.0 L190.9 263.2 L192.6 260.5 M194.5 264.3 L193.5 269.8 L196.4 270.8 L195.2 275.1 L193.7 273.5 L190.9 269.0 M180.4 301.0 L182.5 298.8 L184.0 300.6 L182.9 303.0 L180.4 301.0 M146.9 237.8 L153.5 238.0 L158.8 238.0 L159.0 239.0 L159.8 235.6 L163.6 235.6 M149.3 249.6 L150.9 248.5 L151.1 246.8 L155.6 246.6 L155.8 243.3 L154.7 241.8 L155.8 239.5 L153.5 238.0 M157.7 227.9 L155.8 230.8 L156.0 233.5 L159.0 239.0 M146.9 240.3 L149.7 240.3 L149.7 238.0 M30.3 234.4 L28.8 237.5 L25.0 237.8" fill="none" stroke="#c9b4cf" stroke-width="0.45" stroke-opacity="0.75" stroke-linejoin="round"/>
<path d="M395.6 247.1 L395.6 259.5" fill="none" stroke="#9a7f8a" stroke-width="0.6"/>
<path d="M181.4 154.6 L183.5 156.3 L187.8 156.1 L191.4 154.3 L194.8 154.3 L197.1 156.1 L201.1 157.1 L203.6 156.8 L207.0 155.6 L207.4 153.8 L206.0 151.7 L203.6 150.2 L200.3 147.8 L199.0 146.5 L197.7 145.9 L195.4 146.5 L193.1 147.8 L191.8 147.5 L191.6 145.9 L189.9 145.4 L192.0 143.5 L189.0 143.2 L188.0 142.1 L186.5 142.4 L185.6 144.3 L184.6 145.9 L182.7 148.6 L182.5 150.7 L181.2 151.2 L180.6 153.0Z M197.7 145.9 L195.4 145.5 L194.7 144.3 L194.5 143.2 L195.4 142.4 L197.5 141.8 L199.6 140.7 L201.5 140.4 L202.8 140.7 L200.9 141.8 L200.3 143.7 L200.2 145.4 L199.0 145.6Z M178.0 159.0 L179.5 158.1 L181.4 156.8 L183.5 156.3 L184.2 157.5 L183.3 158.3 L180.4 158.6Z M218.4 151.7 L217.0 147.8 L218.4 144.8 L219.3 143.7 L221.2 142.9 L225.0 141.3 L226.9 141.5 L228.8 142.9 L229.2 145.6 L225.6 145.6 L225.0 147.8 L223.7 148.3 L225.4 151.2 L227.8 152.2 L228.2 154.8 L229.9 154.0 L232.0 155.1 L231.6 156.8 L228.6 156.8 L228.8 159.3 L229.7 161.0 L230.5 165.9 L230.3 166.6 L226.9 167.1 L223.7 165.6 L221.2 165.2 L221.0 163.0 L221.8 161.0 L223.7 158.3 L222.2 157.8 L221.2 155.8 L220.1 154.3Z M238.8 146.5 L239.2 144.3 L240.7 142.9 L243.2 141.8 L244.3 142.9 L242.4 144.8 L241.1 146.5 L240.5 148.3 L239.0 148.3Z M186.9 99.1 L185.2 96.1 L186.5 93.3 L189.0 92.9 L190.9 95.7 L189.9 98.4Z M195.4 95.3 L193.3 92.1 L194.7 88.9 L196.2 90.1 L197.3 94.1Z M324.9 127.9 L326.4 126.7 L330.2 124.5 L334.0 120.7 L336.7 114.5 L335.5 114.1 L333.8 117.5 L331.2 121.7 L328.3 124.5 L325.5 127.0Z M188.4 244.1 L189.0 241.8 L191.8 241.4 L193.1 242.8 L192.6 245.2 L190.9 247.1 L189.0 247.1Z M183.9 248.7 L184.6 250.7 L186.7 258.4 L185.9 258.6 L183.7 252.6 L183.3 248.8Z M192.6 260.3 L193.9 262.2 L194.5 268.0 L195.2 269.6 L194.1 269.4 L193.1 265.1 L192.6 262.2Z M267.7 145.1 L269.6 142.9 L273.3 141.8 L277.1 142.1 L278.7 142.7 L276.8 142.9 L273.3 142.9 L270.1 144.8 L268.6 146.5Z M152.0 104.0 L153.3 101.8 L154.8 102.9 L153.5 105.1Z M154.5 217.3 L155.8 216.4 L156.2 217.7 L155.0 218.1Z" fill="#aad3df"/>
<circle cx="263" cy="129" r="9.9" fill="#ff0000" fill-opacity="0.8"/>
<circle cx="332.7" cy="139.2" r="9.9" fill="#99004c" fill-opacity="0.8"/>
<circle cx="349.2" cy="160.5" r="9.9" fill="#00e400" fill-opacity="0.8"/>
<circle cx="362" cy="155.5" r="9.9" fill="#ffff00" fill-opacity="0.8"/>
<circle cx="358.8" cy="180.8" r="9.9" fill="#ff0000" fill-opacity="0.8"/>
<circle cx="164.0" cy="151.0" r="9.9" fill="#99004c" fill-opacity="0.8"/>
<circle cx="168.6" cy="153.3" r="9.9" fill="#ff0000" fill-opacity="0.8"/>
<circle cx="134.3" cy="167.4" r="9.9" fill="#ffff00" fill-opacity="0.8"/>
<circle cx="239.4" cy="165.8" r="9.9" fill="#ffff00" fill-opacity="0.8"/>
<circle cx="196.8" cy="178.5" r="9.9" fill="#999999" fill-opacity="0.8"/>
<circle cx="212.7" cy="175.4" r="9.9" fill="#ff0000" fill-opacity="0.8"/>
<circle cx="214.8" cy="194.5" r="9.9" fill="#999999" fill-opacity="0.8"/>
<circle cx="219.5" cy="184.2" r="9.9" fill="#ffff00" fill-opacity="0.8"/>
<circle cx="224" cy="191.4" r="9.9" fill="#ffff00" fill-opacity="0.8"/>
<circle cx="232.8" cy="193.9" r="9.9" fill="#ffff00" fill-opacity="0.8"/>
<circle cx="202.5" cy="201.6" r="9.9" fill="#ffff00" fill-opacity="0.8"/>
<circle cx="190.3" cy="213.1" r="9.9" fill="#ffff00" fill-opacity="0.8"/>
<circle cx="201.6" cy="225.2" r="9.9" fill="#c4c418" fill-opacity="0.8"/>
<circle cx="191" cy="241.8" r="9.9" fill="#999999" fill-opacity="0.8"/>
<circle cx="157.3" cy="219.1" r="9.9" fill="#999999" fill-opacity="0.8"/>
<circle cx="102.1" cy="224.6" r="9.9" fill="#ffff00" fill-opacity="0.8"/>
<circle cx="120.8" cy="233.1" r="9.9" fill="#ffff00" fill-opacity="0.8"/>
<circle cx="128.8" cy="232.5" r="9.9" fill="#ffff00" fill-opacity="0.8"/>
<circle cx="113.4" cy="218.8" r="9.9" fill="#ff0000" fill-opacity="0.8"/>
<circle cx="269.7" cy="152.2" r="9.9" fill="#00e400" fill-opacity="0.8"/>
<circle cx="258.8" cy="156.6" r="9.9" fill="#ff0000" fill-opacity="0.8"/>
<circle cx="258.8" cy="163.8" r="9.9" fill="#ff0000" fill-opacity="0.8"/>
<circle cx="275" cy="152" r="9.9" fill="#ff0000" fill-opacity="0.8"/>
<circle cx="260.3" cy="174" r="9.9" fill="#99004c" fill-opacity="0.8"/>
<circle cx="270" cy="179.7" r="9.9" fill="#99004c" fill-opacity="0.8"/>
<circle cx="267" cy="174" r="9.9" fill="#ff7e00" fill-opacity="0.8"/>
<circle cx="273.1" cy="186.3" r="9.9" fill="#99004c" fill-opacity="0.8"/>
<circle cx="290.1" cy="188.7" r="9.9" fill="#ff7e00" fill-opacity="0.8"/>
<circle cx="295.6" cy="199.6" r="9.9" fill="#99004c" fill-opacity="0.8"/>
<circle cx="300.8" cy="195.9" r="9.9" fill="#99004c" fill-opacity="0.8"/>
<circle cx="256.1" cy="194.5" r="9.9" fill="#ff0000" fill-opacity="0.8"/>
<circle cx="264.9" cy="206.1" r="9.9" fill="#ff0000" fill-opacity="0.8"/>
<circle cx="278.2" cy="208.8" r="9.9" fill="#ff0000" fill-opacity="0.8"/>
<circle cx="280.3" cy="217.6" r="9.9" fill="#00e400" fill-opacity="0.8"/>
<circle cx="279.7" cy="229.7" r="9.9" fill="#00e400" fill-opacity="0.8"/>
<circle cx="310.5" cy="210.2" r="9.9" fill="#ff0000" fill-opacity="0.8"/>
<circle cx="329.5" cy="202.1" r="9.9" fill="#ff7e00" fill-opacity="0.8"/>
<circle cx="343.3" cy="197.3" r="9.9" fill="#ffff00" fill-opacity="0.8"/>
<circle cx="322.8" cy="208" r="9.9" fill="#ffff00" fill-opacity="0.8"/>
<circle cx="330.5" cy="221.9" r="9.9" fill="#ffff00" fill-opacity="0.8"/>
<circle cx="330.8" cy="253.9" r="9.9" fill="#00e400" fill-opacity="0.8"/>
<text x="332.7" y="142.25" class="mh">216</text><text x="332.7" y="142.25" class="ml">216</text>
<text x="349.2" y="163.55" class="mh">42</text><text x="349.2" y="163.55" class="ml">42</text>
<text x="362" y="158.55" class="mh">69</text><text x="362" y="158.55" class="ml">69</text>
<text x="358.8" y="183.85000000000002" class="mh">154</text><text x="358.8" y="183.85000000000002" class="ml">154</text>
<text x="164.0" y="154.05" class="mh">201</text><text x="164.0" y="154.05" class="ml">201</text>
<text x="168.6" y="156.35000000000002" class="mh">158</text><text x="168.6" y="156.35000000000002" class="ml">158</text>
<text x="134.3" y="170.45000000000002" class="mh">52</text><text x="134.3" y="170.45000000000002" class="ml">52</text>
<text x="239.4" y="168.85000000000002" class="mh">59</text><text x="239.4" y="168.85000000000002" class="ml">59</text>
<text x="196.8" y="181.55" class="mh">N/A</text><text x="196.8" y="181.55" class="ml">N/A</text>
<text x="212.7" y="178.45000000000002" class="mh">187</text><text x="212.7" y="178.45000000000002" class="ml">187</text>
<text x="214.8" y="197.55" class="mh">N/A</text><text x="214.8" y="197.55" class="ml">N/A</text>
<text x="219.5" y="187.25" class="mh">58</text><text x="219.5" y="187.25" class="ml">58</text>
<text x="224" y="194.45000000000002" class="mh">94</text><text x="224" y="194.45000000000002" class="ml">94</text>
<text x="232.8" y="196.95000000000002" class="mh">63</text><text x="232.8" y="196.95000000000002" class="ml">63</text>
<text x="202.5" y="204.65" class="mh">71</text><text x="202.5" y="204.65" class="ml">71</text>
<text x="190.3" y="216.15" class="mh">65</text><text x="190.3" y="216.15" class="ml">65</text>
<text x="201.6" y="228.25" class="mh">156</text><text x="201.6" y="228.25" class="ml">156</text>
<text x="191" y="244.85000000000002" class="mh">N/A</text><text x="191" y="244.85000000000002" class="ml">N/A</text>
<text x="157.3" y="222.15" class="mh">N/A</text><text x="157.3" y="222.15" class="ml">N/A</text>
<text x="102.1" y="227.65" class="mh">92</text><text x="102.1" y="227.65" class="ml">92</text>
<text x="120.8" y="236.15" class="mh">62</text><text x="120.8" y="236.15" class="ml">62</text>
<text x="128.8" y="235.55" class="mh">71</text><text x="128.8" y="235.55" class="ml">71</text>
<text x="113.4" y="221.85000000000002" class="mh">163</text><text x="113.4" y="221.85000000000002" class="ml">163</text>
<text x="258.8" y="159.65" class="mh">155</text><text x="258.8" y="159.65" class="ml">155</text>
<text x="258.8" y="166.85000000000002" class="mh">175</text><text x="258.8" y="166.85000000000002" class="ml">175</text>
<text x="275" y="155.05" class="mh">191</text><text x="275" y="155.05" class="ml">191</text>
<text x="260.3" y="177.05" class="mh">411</text><text x="260.3" y="177.05" class="ml">411</text>
<text x="270" y="182.75" class="mh">372</text><text x="270" y="182.75" class="ml">372</text>
<text x="267" y="177.05" class="mh">132</text><text x="267" y="177.05" class="ml">132</text>
<text x="273.1" y="189.35000000000002" class="mh">244</text><text x="273.1" y="189.35000000000002" class="ml">244</text>
<text x="290.1" y="191.75" class="mh">102</text><text x="290.1" y="191.75" class="ml">102</text>
<text x="295.6" y="202.65" class="mh">333</text><text x="295.6" y="202.65" class="ml">333</text>
<text x="300.8" y="198.95000000000002" class="mh">245</text><text x="300.8" y="198.95000000000002" class="ml">245</text>
<text x="256.1" y="197.55" class="mh">174</text><text x="256.1" y="197.55" class="ml">174</text>
<text x="264.9" y="209.15" class="mh">161</text><text x="264.9" y="209.15" class="ml">161</text>
<text x="278.2" y="211.85000000000002" class="mh">167</text><text x="278.2" y="211.85000000000002" class="ml">167</text>
<text x="280.3" y="220.65" class="mh">41</text><text x="280.3" y="220.65" class="ml">41</text>
<text x="279.7" y="232.75" class="mh">45</text><text x="279.7" y="232.75" class="ml">45</text>
<text x="310.5" y="213.25" class="mh">152</text><text x="310.5" y="213.25" class="ml">152</text>
<text x="329.5" y="205.15" class="mh">150</text><text x="329.5" y="205.15" class="ml">150</text>
<text x="343.3" y="200.35000000000002" class="mh">74</text><text x="343.3" y="200.35000000000002" class="ml">74</text>
<text x="322.8" y="211.05" class="mh">58</text><text x="322.8" y="211.05" class="ml">58</text>
<text x="330.5" y="224.95000000000002" class="mh">84</text><text x="330.5" y="224.95000000000002" class="ml">84</text>
<text x="330.8" y="256.95" class="mh">42</text><text x="330.8" y="256.95" class="ml">42</text>
</svg>
</div>

<!-- popup -->
<div class="abs" style="left:237.4px;top:47.8px;width:107.8px;height:89.2px;background:#fff;border-radius:8px;box-shadow:0 2px 9px rgba(0,0,0,0.4)"></div>
<svg class="abs" style="left:262px;top:136.5px" width="18" height="8" viewBox="0 0 18 8"><path d="M2.6 0 L9 6.4 L15.4 0 Z" fill="#fff"/></svg>
<div class="abs" style="left:237.4px;top:57.6px;width:107.8px;text-align:center;font-size:9.33px;line-height:10.15px;color:#333">Bishkek<br>2020-12-03 8:00 AM<br>(LT)</div>
<div class="abs" style="left:248px;top:88.3px;width:86.6px;height:38.4px;background:#03487f"></div>
<div class="abs" style="left:249px;top:107.3px;width:54.8px;height:18.4px;background:#fff"></div>
<div class="abs" style="left:304.3px;top:107.3px;width:29.3px;height:18.4px;background:#00e400"></div>
<div class="abs" style="left:249px;top:90.9px;width:54.8px;text-align:center;font-size:9.45px;font-weight:bold;color:#fff">Pollutant</div>
<div class="abs" style="left:304.3px;top:90.9px;width:29.3px;text-align:center;font-size:9.45px;font-weight:bold;color:#fff">AQI</div>
<div class="abs" style="left:249px;top:111.1px;width:54.8px;text-align:center;font-size:9.33px;color:#333;letter-spacing:0.2px">PM2.5</div>
<svg class="abs" style="left:304.3px;top:107.3px" width="29.3" height="18.4" viewBox="304.3 107.3 29.3 18.4"><path d="M317 119.3 V112.7 L315 114.5 M321.7 119.3 V112.7 L319.7 114.5" fill="none" stroke="#1c2a1c" stroke-width="0.95" stroke-linejoin="miter"/></svg>

<!-- side panel -->
<div class="abs bar" style="top:0;height:22.8px;line-height:22.6px">Select a City</div>
<div class="abs sel" style="top:24.4px;height:24.2px">Bishkek<svg class="x" viewBox="0 0 6 5"><path d="M0.4 0.3 L5.6 4.7 M5.6 0.3 L0.4 4.7" stroke="#8a8a8a" stroke-width="0.95" fill="none"/></svg><span class="a"></span></div>
<div class="abs bar" style="top:62.8px;height:23.4px;line-height:24px">Select a Parameter</div>
<div class="abs sel" style="top:87.3px;height:24.1px">PM2.5<svg class="x" viewBox="0 0 6 5"><path d="M0.4 0.3 L5.6 4.7 M5.6 0.3 L0.4 4.7" stroke="#8a8a8a" stroke-width="0.95" fill="none"/></svg><span class="a"></span></div>
<div id="city" class="abs"><div class="n">Bishkek</div>
<svg class="abs" style="left:188px;top:16.6px" width="23.2" height="23.2" viewBox="0 0 24 24"><rect width="24" height="24" fill="#f0b03f"/>
<circle cx="5.9" cy="18" r="2.5" fill="#fff"/>
<path d="M3.4 10.5 a10 10 0 0 1 10 10" fill="none" stroke="#fff" stroke-width="3"/>
<path d="M3.4 4.9 a15.6 15.6 0 0 1 15.6 15.6" fill="none" stroke="#fff" stroke-width="3"/></svg>
</div>
<div id="note" class="abs">Note: Values above 500 are considered Beyond the AQI. Follow<br>recommendations for the Hazardous category. Additional<br>information on reducing exposure to extremely high levels of<br>particle pollution is available <b>here</b>.</div>

<!-- tabs -->
<div class="abs tab" style="left:30.3px;width:71.4px;background:#fff;color:#333;border:1px solid #aaa;border-top:1.7px solid #03487f;border-bottom:none;line-height:22.6px;height:20.6px">AQI</div>
<div class="abs tab" style="left:104px;width:111.3px">Concentration</div>
<div class="abs tab" style="left:217.3px;width:91.6px">Historical</div>
<div id="tabline" class="abs"></div>
<div id="learn" class="abs">Learn more about how the Air Quality Index [AQI] is calculated from the EPA <b>here</b>.</div>

<!-- chart -->
<div id="chart" class="abs"></div>
<svg class="abs" style="left:0;top:366.3px" width="560" height="195.7" viewBox="0 366.3 560 195.7">
<line x1="80.3" x2="549.3" y1="528.9" y2="528.9" stroke="#e6e6e6" stroke-width="0.8"/>
<text x="70" y="531.5" class="yl">0</text>
<line x1="80.3" x2="549.3" y1="504.5" y2="504.5" stroke="#e6e6e6" stroke-width="0.8"/>
<text x="70" y="507.1" class="yl">100</text>
<line x1="80.3" x2="549.3" y1="480.1" y2="480.1" stroke="#e6e6e6" stroke-width="0.8"/>
<text x="70" y="482.7" class="yl">200</text>
<line x1="80.3" x2="549.3" y1="455.6" y2="455.6" stroke="#e6e6e6" stroke-width="0.8"/>
<text x="70" y="458.2" class="yl">300</text>
<line x1="80.3" x2="549.3" y1="431.2" y2="431.2" stroke="#e6e6e6" stroke-width="0.8"/>
<text x="70" y="433.8" class="yl">400</text>
<line x1="80.3" x2="549.3" y1="406.8" y2="406.8" stroke="#e6e6e6" stroke-width="0.8"/>
<text x="70" y="409.4" class="yl">500</text>
<line x1="80.3" x2="549.3" y1="529.1999999999999" y2="529.1999999999999" stroke="#ccd6eb" stroke-width="0.8"/>
<line x1="80.3" x2="80.3" y1="528.9" y2="535.4" stroke="#ccd6eb" stroke-width="0.8"/>
<line x1="99.8" x2="99.8" y1="528.9" y2="535.4" stroke="#ccd6eb" stroke-width="0.8"/>
<line x1="119.4" x2="119.4" y1="528.9" y2="535.4" stroke="#ccd6eb" stroke-width="0.8"/>
<line x1="138.9" x2="138.9" y1="528.9" y2="535.4" stroke="#ccd6eb" stroke-width="0.8"/>
<line x1="158.5" x2="158.5" y1="528.9" y2="535.4" stroke="#ccd6eb" stroke-width="0.8"/>
<line x1="178.0" x2="178.0" y1="528.9" y2="535.4" stroke="#ccd6eb" stroke-width="0.8"/>
<line x1="197.5" x2="197.5" y1="528.9" y2="535.4" stroke="#ccd6eb" stroke-width="0.8"/>
<line x1="217.1" x2="217.1" y1="528.9" y2="535.4" stroke="#ccd6eb" stroke-width="0.8"/>
<line x1="236.6" x2="236.6" y1="528.9" y2="535.4" stroke="#ccd6eb" stroke-width="0.8"/>
<line x1="256.2" x2="256.2" y1="528.9" y2="535.4" stroke="#ccd6eb" stroke-width="0.8"/>
<line x1="275.7" x2="275.7" y1="528.9" y2="535.4" stroke="#ccd6eb" stroke-width="0.8"/>
<line x1="295.2" x2="295.2" y1="528.9" y2="535.4" stroke="#ccd6eb" stroke-width="0.8"/>
<line x1="314.8" x2="314.8" y1="528.9" y2="535.4" stroke="#ccd6eb" stroke-width="0.8"/>
<line x1="334.3" x2="334.3" y1="528.9" y2="535.4" stroke="#ccd6eb" stroke-width="0.8"/>
<line x1="353.9" x2="353.9" y1="528.9" y2="535.4" stroke="#ccd6eb" stroke-width="0.8"/>
<line x1="373.4" x2="373.4" y1="528.9" y2="535.4" stroke="#ccd6eb" stroke-width="0.8"/>
<line x1="392.9" x2="392.9" y1="528.9" y2="535.4" stroke="#ccd6eb" stroke-width="0.8"/>
<line x1="412.5" x2="412.5" y1="528.9" y2="535.4" stroke="#ccd6eb" stroke-width="0.8"/>
<line x1="432.0" x2="432.0" y1="528.9" y2="535.4" stroke="#ccd6eb" stroke-width="0.8"/>
<line x1="451.6" x2="451.6" y1="528.9" y2="535.4" stroke="#ccd6eb" stroke-width="0.8"/>
<line x1="471.1" x2="471.1" y1="528.9" y2="535.4" stroke="#ccd6eb" stroke-width="0.8"/>
<line x1="490.6" x2="490.6" y1="528.9" y2="535.4" stroke="#ccd6eb" stroke-width="0.8"/>
<line x1="510.2" x2="510.2" y1="528.9" y2="535.4" stroke="#ccd6eb" stroke-width="0.8"/>
<line x1="529.7" x2="529.7" y1="528.9" y2="535.4" stroke="#ccd6eb" stroke-width="0.8"/>
<line x1="549.3" x2="549.3" y1="528.9" y2="535.4" stroke="#ccd6eb" stroke-width="0.8"/>
<rect x="85.35" y="525.74" width="9.50" height="3.16" fill="#0ccc18" stroke="#0a5a10" stroke-width="1.05"/>
<rect x="104.89" y="524.52" width="9.50" height="4.38" fill="#0ccc18" stroke="#0a5a10" stroke-width="1.05"/>
<rect x="124.43" y="518.66" width="9.50" height="10.24" fill="#0ccc18" stroke="#0a5a10" stroke-width="1.05"/>
<rect x="143.97" y="513.28" width="9.50" height="15.62" fill="#ffff00" stroke="#6b6b1a" stroke-width="1.05"/>
<rect x="163.51" y="515.24" width="9.50" height="13.66" fill="#ffff00" stroke="#6b6b1a" stroke-width="1.05"/>
<rect x="183.05" y="514.02" width="9.50" height="14.88" fill="#ffff00" stroke="#6b6b1a" stroke-width="1.05"/>
<rect x="202.59" y="486.66" width="9.50" height="42.23" fill="#ff0000" stroke="#6a0808" stroke-width="1.05"/>
<rect x="222.13" y="483.98" width="9.50" height="44.92" fill="#ff0000" stroke="#6a0808" stroke-width="1.05"/>
<rect x="241.67" y="486.66" width="9.50" height="42.23" fill="#ff0000" stroke="#6a0808" stroke-width="1.05"/>
<rect x="261.21" y="490.57" width="9.50" height="38.33" fill="#ff0000" stroke="#6a0808" stroke-width="1.05"/>
<rect x="280.75" y="493.26" width="9.50" height="35.64" fill="#ff7e00" stroke="#7a4008" stroke-width="1.05"/>
<rect x="300.29" y="489.84" width="9.50" height="39.06" fill="#ff0000" stroke="#6a0808" stroke-width="1.05"/>
<rect x="319.83" y="483.73" width="9.50" height="45.17" fill="#ff0000" stroke="#6a0808" stroke-width="1.05"/>
<rect x="339.37" y="481.78" width="9.50" height="47.12" fill="#ff0000" stroke="#6a0808" stroke-width="1.05"/>
<rect x="358.91" y="487.15" width="9.50" height="41.75" fill="#ff0000" stroke="#6a0808" stroke-width="1.05"/>
<rect x="378.45" y="492.04" width="9.50" height="36.86" fill="#ff0000" stroke="#6a0808" stroke-width="1.05"/>
<rect x="397.99" y="501.32" width="9.50" height="27.58" fill="#ff7e00" stroke="#7a4008" stroke-width="1.05"/>
<rect x="417.53" y="509.62" width="9.50" height="19.28" fill="#ffff00" stroke="#6b6b1a" stroke-width="1.05"/>
<rect x="437.07" y="514.99" width="9.50" height="13.91" fill="#ffff00" stroke="#6b6b1a" stroke-width="1.05"/>
<rect x="456.61" y="519.63" width="9.50" height="9.27" fill="#0ccc18" stroke="#0a5a10" stroke-width="1.05"/>
<rect x="476.15" y="524.76" width="9.50" height="4.14" fill="#0ccc18" stroke="#0a5a10" stroke-width="1.05"/>
<rect x="495.69" y="526.47" width="9.50" height="2.43" fill="#0ccc18" stroke="#0a5a10" stroke-width="1.05"/>
<rect x="515.23" y="528.42" width="9.50" height="0.48" fill="#0ccc18" stroke="#0a5a10" stroke-width="1.05"/>
<rect x="534.77" y="526.71" width="9.50" height="2.19" fill="#0ccc18" stroke="#0a5a10" stroke-width="1.05"/>
<text transform="translate(92.3,541.4) rotate(-45)" class="xl">9 AM</text>
<text transform="translate(111.8,541.4) rotate(-45)" class="xl">10 AM</text>
<text transform="translate(131.4,541.4) rotate(-45)" class="xl">11 AM</text>
<text transform="translate(150.9,541.4) rotate(-45)" class="xl">12 PM</text>
<text transform="translate(170.5,541.4) rotate(-45)" class="xl">1 PM</text>
<text transform="translate(190.0,541.4) rotate(-45)" class="xl">2 PM</text>
<text transform="translate(209.5,541.4) rotate(-45)" class="xl">3 PM</text>
<text transform="translate(229.1,541.4) rotate(-45)" class="xl">4 PM</text>
<text transform="translate(248.6,541.4) rotate(-45)" class="xl">5 PM</text>
<text transform="translate(268.2,541.4) rotate(-45)" class="xl">6 PM</text>
<text transform="translate(287.7,541.4) rotate(-45)" class="xl">7 PM</text>
<text transform="translate(307.2,541.4) rotate(-45)" class="xl">8 PM</text>
<text transform="translate(326.8,541.4) rotate(-45)" class="xl">9 PM</text>
<text transform="translate(346.3,541.4) rotate(-45)" class="xl">10 PM</text>
<text transform="translate(365.9,541.4) rotate(-45)" class="xl">11 PM</text>
<text transform="translate(385.4,541.4) rotate(-45)" class="xl">12/3/2020 12 AM</text>
<text transform="translate(404.9,541.4) rotate(-45)" class="xl">1 AM</text>
<text transform="translate(424.5,541.4) rotate(-45)" class="xl">2 AM</text>
<text transform="translate(444.0,541.4) rotate(-45)" class="xl">3 AM</text>
<text transform="translate(463.6,541.4) rotate(-45)" class="xl">4 AM</text>
<text transform="translate(483.1,541.4) rotate(-45)" class="xl">5 AM</text>
<text transform="translate(502.6,541.4) rotate(-45)" class="xl">6 AM</text>
<text transform="translate(522.2,541.4) rotate(-45)" class="xl">7 AM</text>
<text transform="translate(541.7,541.4) rotate(-45)" class="xl">8 AM</text>
<text transform="translate(49.5,465.3) rotate(-90)" class="yt">AQI</text>
<text x="293.4" y="382.6" class="ct">Bishkek – PM2.5</text>
</svg>

<!-- current conditions -->
<div id="cc" class="abs">
<div class="h"><div style="position:absolute;left:0;width:100%;top:4.9px;font-size:10px;line-height:12px">Current Conditions</div>
<div style="position:absolute;left:0;width:100%;top:20.6px;font-size:8.1px;line-height:10px">observed at</div>
<div style="position:absolute;left:0;width:100%;top:33.3px;font-size:9.98px;line-height:12px">Dec 3, 2020 8:00 AM (LT)</div></div>
<div class="g"><div style="top:13px">11 AQI</div><div style="top:31.8px">Good</div><div style="top:50.8px">PM2.5</div></div>
<div class="hm">Health Message</div>
<div class="tx">The AQI value for your community is<br>between 0 and 50. Air quality is satisfactory<br>and poses little or no health risk.</div>
</div>

</body></html>
